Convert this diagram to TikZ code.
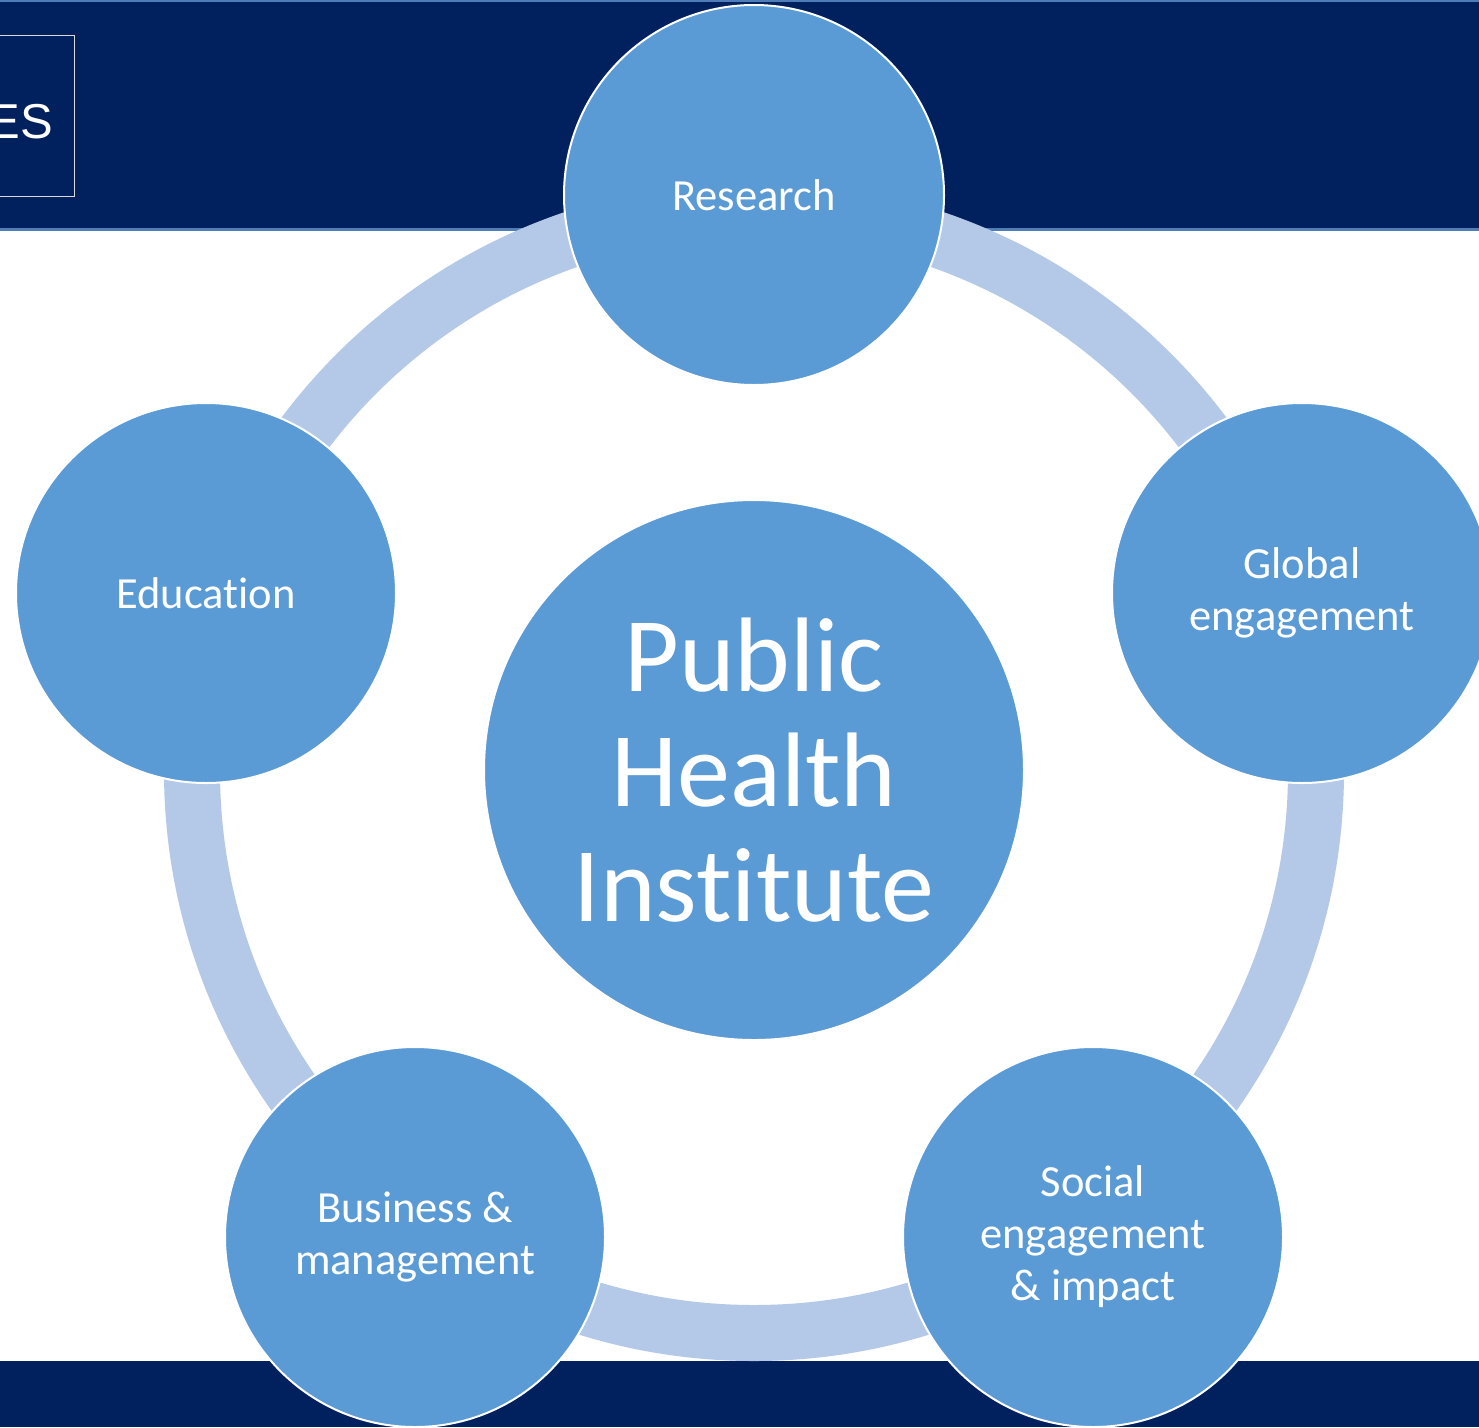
\documentclass[tikz,border=0pt]{standalone}
\usepackage{fontspec}
\setmainfont[Ligatures=NoCommon]{Carlito}
\newfontfamily\arialfont{Liberation Sans}
\definecolor{navy}{HTML}{00205E}
\definecolor{bandline}{HTML}{4F7DB8}
\definecolor{ringblue}{HTML}{B4C9E7}
\definecolor{circblue}{HTML}{5B9BD5}
\begin{document}
\begin{tikzpicture}[x=1pt,y=-1pt,
  bubble/.style={circle, fill=circblue, draw=white, line width=2pt, inner sep=0pt,
    minimum size=380pt, text=white, align=center,
    font=\fontsize{44.5}{52}\selectfont},
  hub/.style={circle, fill=circblue, draw=white, line width=2pt, inner sep=0pt,
    minimum size=540pt, text=white, align=center,
    font=\fontsize{106}{115}\selectfont}]
\useasboundingbox (0,0) rectangle (1479,1427);
\clip (0,0) rectangle (1479,1427);
\fill[white] (0,0) rectangle (1479,1427);
% top band
\fill[navy] (0,0) rectangle (1479,230);
\fill[bandline] (0,228) rectangle (1479,231);
\fill[bandline] (0,0) rectangle (1479,1.5);
% logo box
\node[draw=white!70!gray, line width=1pt, minimum width=76pt, minimum height=161pt,
  inner sep=0pt] (logo) at (36,116) {};
\node[anchor=base east, text=white, inner sep=0pt,
  font=\arialfont\fontsize{49}{49}\selectfont] (logotxt) at (53,138) {ES};
% bottom band
\fill[navy] (0,1361) rectangle (1479,1427);
% ring
\coordinate (ringc) at (754,771);
\draw[ringblue, line width=56pt] (ringc) circle[radius=562];
% nodes
\node[hub] (center) at (754,770) {Public\\Health\\Institute};
\node[bubble] (research) at (754,195) {Research};
\node[bubble] (education) at (206,593) {Education};
\node[bubble] (global) at (1302,593) {Global\\engagement};
\node[bubble] (business) at (415,1237) {Business \&\\management};
\node[bubble] (social) at (1093,1237) {Social\\engagement\\\& impact};
\end{tikzpicture}
\end{document}
